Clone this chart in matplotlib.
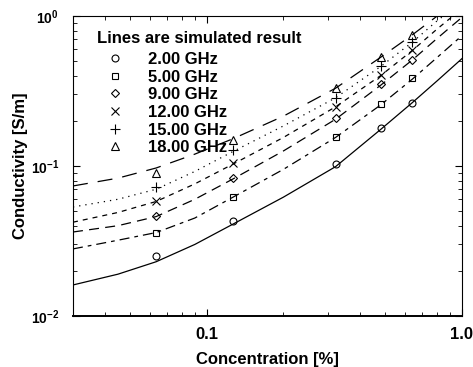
import matplotlib
matplotlib.use("Agg")
import matplotlib.pyplot as plt
from matplotlib.ticker import FixedLocator, FixedFormatter, LogLocator, NullFormatter

plt.rcParams["font.family"] = ["Liberation Sans", "DejaVu Sans"]
plt.rcParams["font.weight"] = "bold"
plt.rcParams["mathtext.fontset"] = "custom"
plt.rcParams["mathtext.rm"] = "Liberation Sans:bold"
plt.rcParams["mathtext.bf"] = "Liberation Sans:bold"

# Measured points (concentration in %)
conc_meas = [0.0635, 0.127, 0.32, 0.48, 0.64]
meas_2 = [0.0252, 0.0432, 0.103, 0.178, 0.264]
meas_5 = [0.0359, 0.0626, 0.155, 0.258, 0.384]
meas_9 = [0.0467, 0.083, 0.208, 0.350, 0.509]
meas_12 = [0.0587, 0.105, 0.249, 0.404, 0.593]
meas_15 = [0.0728, 0.128, 0.285, 0.467, 0.667]
meas_18 = [0.0898, 0.149, 0.331, 0.530, 0.747]

# Simulated curves
conc_sim = [0.03, 0.045, 0.0635, 0.09, 0.127, 0.2, 0.32, 0.48, 0.64, 0.8, 1.0]
sim_2 = [0.0161, 0.019, 0.023, 0.030, 0.041, 0.062, 0.099, 0.175, 0.265, 0.37, 0.52]
sim_5 = [0.028, 0.032, 0.036, 0.045, 0.062, 0.095, 0.155, 0.255, 0.38, 0.53, 0.74]
sim_9 = [0.0363, 0.040, 0.046, 0.060, 0.082, 0.126, 0.205, 0.345, 0.51, 0.71, 0.98]
sim_12 = [0.0422, 0.049, 0.058, 0.076, 0.103, 0.155, 0.248, 0.40, 0.59, 0.82, 1.12]
sim_15 = [0.0533, 0.060, 0.070, 0.092, 0.125, 0.185, 0.285, 0.46, 0.67, 0.93, 1.25]
sim_18 = [0.0736, 0.083, 0.097, 0.12, 0.152, 0.215, 0.33, 0.53, 0.75, 1.0, 1.35]

labels = ["2.00 GHz", "5.00 GHz", "9.00 GHz", "12.00 GHz", "15.00 GHz", "18.00 GHz"]
markers = ["o", "s", "D", "x", "+", "^"]
msizes = [5, 5, 4, 6, 7, 6]
styles = ["-", (0, (8, 4, 3, 4)), (0, (8, 5)), (0, (4, 4)), (0, (1, 4)), (0, (12, 8))]

meas = [meas_2, meas_5, meas_9, meas_12, meas_15, meas_18]
sims = [sim_2, sim_5, sim_9, sim_12, sim_15, sim_18]

fig = plt.figure(figsize=(4.73, 3.67), dpi=100)
ax = fig.add_axes([0.1543, 0.139, 0.8224, 0.8174])

for y, ls in zip(sims, styles):
    ax.plot(conc_sim, y, color="black", linestyle=ls, linewidth=0.9)

for y, m, ms, lab in zip(meas, markers, msizes, labels):
    ax.plot(conc_meas, y, linestyle="none", marker=m, markersize=ms,
            markerfacecolor="none", markeredgecolor="black",
            markeredgewidth=0.8, label=lab)

ax.set_xscale("log")
ax.set_yscale("log")
ax.set_xlim(0.03, 1.0)
ax.set_ylim(0.01, 1.0)

ax.xaxis.set_major_locator(FixedLocator([0.1, 1.0]))
ax.xaxis.set_major_formatter(FixedFormatter(["0.1", "1.0"]))
ax.xaxis.set_minor_locator(LogLocator(base=10, subs=range(2, 10)))
ax.xaxis.set_minor_formatter(NullFormatter())
ax.yaxis.set_major_locator(FixedLocator([0.01, 0.1, 1.0]))
ax.yaxis.set_major_formatter(FixedFormatter([r"$10^{-2}$", r"$10^{-1}$", r"$10^{0}$"]))
ax.yaxis.set_minor_locator(LogLocator(base=10, subs=range(2, 10)))
ax.yaxis.set_minor_formatter(NullFormatter())

ax.tick_params(which="both", direction="in", top=True, right=True)
ax.tick_params(which="major", length=5, width=0.8)
ax.tick_params(which="minor", length=3, width=0.6)
ax.tick_params(axis="x", pad=8, labelsize=12)
ax.tick_params(axis="y", pad=10, labelsize=10)
for s in ax.spines.values():
    s.set_linewidth(0.8)
ax.spines["bottom"].set_linewidth(1.4)

ax.set_xlabel("Concentration [%]", fontsize=12, fontweight="bold", labelpad=7)
ax.set_ylabel("Conductivity [S/m]", fontsize=12, fontweight="bold", labelpad=2)

leg = ax.legend(title="Lines are simulated result", loc="upper left",
                bbox_to_anchor=(0.045, 0.972), frameon=False, fontsize=12,
                title_fontproperties={"weight": "bold", "size": 12},
                handlelength=2.2, handletextpad=0.85, labelspacing=0.16,
                borderaxespad=0.0, alignment="left", markerfirst=True)
leg._legend_box.sep = 4.2

fig.savefig("out.png", dpi=100)
